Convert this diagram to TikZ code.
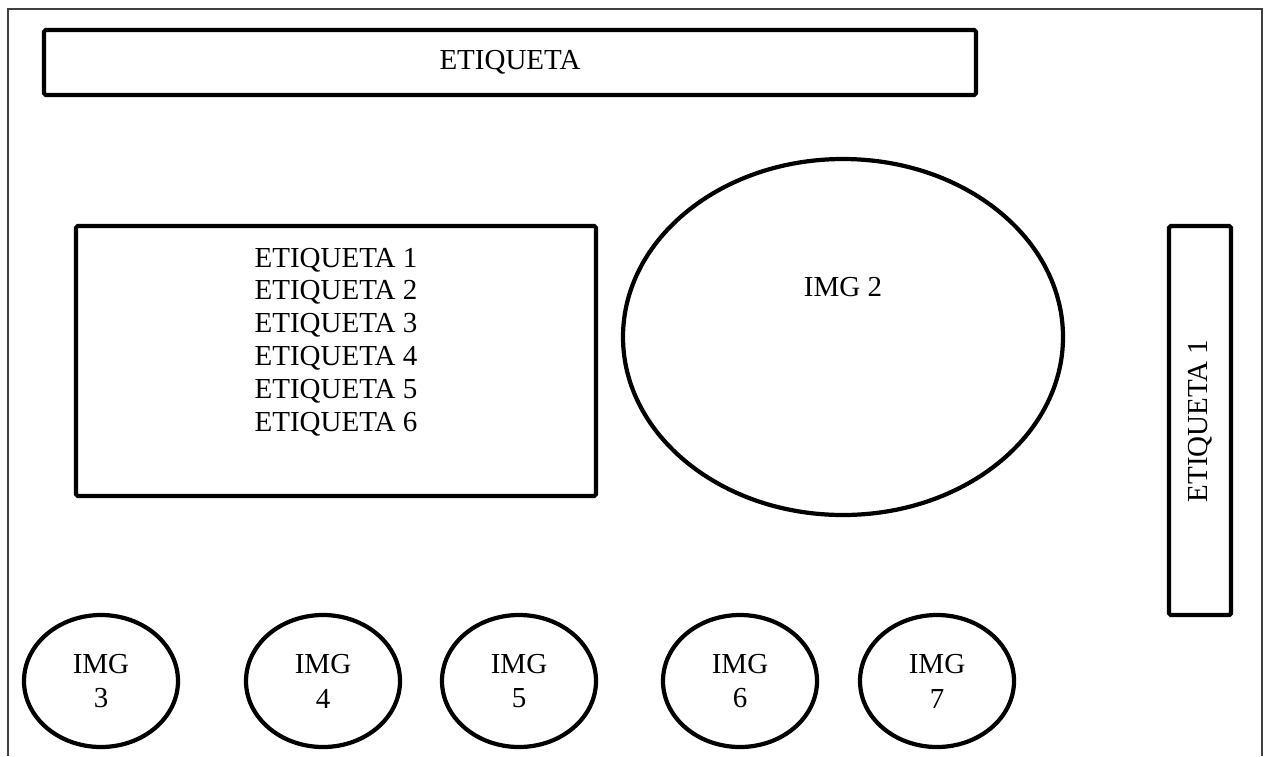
\documentclass[tikz,border=0pt]{standalone}
\usepackage{fontspec}
\setmainfont{Liberation Serif}
\usepackage{tikz}
\usetikzlibrary{shapes.geometric,positioning}

\begin{document}
\begin{tikzpicture}[
    thickbox/.style={draw, line width=2.4pt, rounded corners=1pt, inner sep=0pt},
    smalloval/.style={draw, ellipse, line width=2.4pt, minimum width=3.08cm, minimum height=2.64cm, inner sep=0pt, align=center, font=\fontsize{16.5}{19.8}\selectfont},
    txt/.style={inner sep=0pt, font=\fontsize{16.5}{18.7}\selectfont}
  ]
            \useasboundingbox (0,0) rectangle (25.44,-15.12);
            \coordinate (fbl) at (0.16,-15.12);
            \coordinate (ftl) at (0.16,-0.18);
            \coordinate (ftr) at (25.24,-0.18);
            \coordinate (fbr) at (25.24,-15.12);
            \draw[line width=0.6pt, black!75] (fbl) -- (ftl) -- (ftr) -- (fbr);

            \node (title) [thickbox, txt, minimum width=18.64cm, minimum height=1.3cm] at (10.2,-1.25) {ETIQUETA};

            \node (list) [thickbox, minimum width=10.4cm, minimum height=5.4cm] at (6.72,-7.22) {};
            \node (listtxt) [txt, align=center, anchor=north] at (6.72,-4.95) {ETIQUETA 1\\ETIQUETA 2\\ETIQUETA 3\\ETIQUETA 4\\ETIQUETA 5\\ETIQUETA 6};

            \node (img2) [draw, ellipse, line width=2.4pt, minimum width=8.8cm, minimum height=7.12cm] at (16.86,-6.74) {};
            \node (img2txt) [txt] at (16.86,-5.74) {IMG 2};

            \node (side) [thickbox, minimum width=1.24cm, minimum height=7.78cm] at (24.0,-8.41) {};
            \node (sidetxt) [txt, rotate=90] at (24.0,-8.42) {ETIQUETA 1};

            \node (img3) [smalloval] at (2.02,-13.62) {IMG\\3};
            \node (img4) [smalloval] at (6.46,-13.62) {IMG\\4};
            \node (img5) [smalloval] at (10.38,-13.62) {IMG\\5};
            \node (img6) [smalloval] at (14.8,-13.62) {IMG\\6};
            \node (img7) [smalloval] at (18.74,-13.62) {IMG\\7};
        \end{tikzpicture}
\end{document}
